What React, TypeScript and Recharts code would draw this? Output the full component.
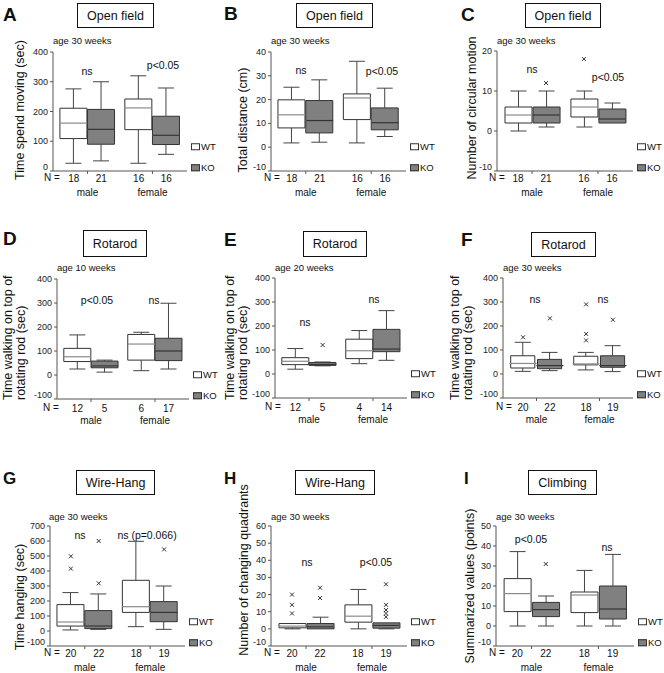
import React from "react"
import { ComposedChart, Bar, Scatter, XAxis, YAxis } from "recharts"

const FONT = "'Liberation Sans', Arial, Helvetica, sans-serif"

// box positions on the x scale: male WT, male KO, female WT, female KO
const xPos = [1, 2, 3.35, 4.35]
const groupPos = [1.5, 3.85]
const sexes = ["male", "female"]
const genotype = ["WT", "KO", "WT", "KO"]

// N per box
const openFieldN = [18, 21, 16, 16]
const rotarod10N = [12, 5, 6, 17]
const rotarod20N = [12, 5, 4, 14]
const age30N = [20, 22, 18, 19]

// [min, q1, median, q3, max] per box
const movingStats = [[26, 109, 161, 211, 276], [34, 90, 140, 207, 300], [26, 139, 212, 242, 320], [56, 89, 120, 184, 279]]
const distanceStats = [[1.8, 8.1, 13.6, 19.9, 25.2], [2.1, 6.0, 11.2, 19.6, 28.3], [1.8, 11.6, 20.7, 22.4, 36.1], [4.5, 7.3, 10.3, 16.5, 24.8]]
const circularStats = [[0, 2, 4, 6, 10], [1, 2, 4, 6, 10], [1, 3.5, 6, 8, 10], [2, 2, 3, 5.5, 7]]
const rotarod10Stats = [[25, 56, 76, 111, 167], [12, 30, 38, 58, 62], [18, 62, 129, 169, 178], [25, 60, 100, 153, 299]]
const rotarod20Stats = [[20, 39, 53, 68, 106], [34, 36, 40, 48, 50], [43, 64, 97, 145, 181], [57, 93, 104, 186, 264]]
const rotarod30Stats = [[11, 25, 44, 76, 132], [14, 22, 35, 61, 90], [17, 38, 42, 74, 90], [10, 28, 35, 76, 118]]
const hangTimeStats = [[7, 33, 60, 176, 256], [11, 16, 33, 136, 247], [29, 124, 162, 338, 598], [11, 62, 124, 196, 300]]
const quadrantStats = [[0, 0.6, 1.6, 3.1, 3.1], [0, 0, 1.2, 3.1, 6.8], [0, 3.9, 7.4, 14, 23], [0, 0.4, 2, 3.5, 3.5]]
const climbStats = [[0, 7.2, 16.2, 23.7, 37.2], [0, 4.7, 8.2, 11.8, 15], [0, 6.7, 15.5, 17, 27.8], [0, 3.5, 8.5, 20, 35.8]]

// outliers: [box index, value]
const circularOut = [[1, 12], [2, 18]]
const rotarod20Out = [[1, 121]]
const rotarod30Out = [[0, 153], [1, 232], [2, 290], [2, 167], [2, 140], [3, 226]]
const hangTimeOut = [[0, 498], [0, 416], [1, 600], [1, 318], [3, 544]]
const quadrantOut = [[0, 20], [0, 14], [0, 9], [1, 24], [1, 18], [3, 26], [3, 14], [3, 11], [3, 9], [3, 7]]
const climbOut = [[1, 31]]

const BOX_W = 27
const CAP = 8

type Note = { text: string; x: number; y: number }
type Panel = {
  letter: string; lx: number; ly: number; lsize: number
  title: string; tb: number[]
  age: string; ax: number; ay: number
  yLabel: string[]; ylx: number; yly: number; twoLine?: boolean
  stats: number[][]; out: number[][]; n: number[]
  domain: number[]; ticks: number[]
  L: number; R: number; T: number; B: number
  nOff: number; nx: number
  notes: Note[]
}

const panels: Panel[] = [
  {
    letter: "A", lx: 3, ly: 5, lsize: 19, title: "Open field", tb: [77, 3, 77, 25],
    age: "age 30 weeks", ax: 53, ay: 41, yLabel: ["Time spend moving (sec)"], ylx: 20, yly: 110,
    stats: movingStats, out: [], n: openFieldN, domain: [0, 400], ticks: [0, 100, 200, 300, 400],
    L: 53, R: 187, T: 52, B: 171, nOff: 7, nx: 52,
    notes: [{ text: "ns", x: 87, y: 71 }, { text: "p<0.05", x: 163, y: 65 }],
  },
  {
    letter: "B", lx: 224, ly: 4, lsize: 19, title: "Open field", tb: [296, 3, 77, 25],
    age: "age 30 weeks", ax: 271, ay: 41, yLabel: ["Total distance (cm)"], ylx: 243, yly: 120,
    stats: distanceStats, out: [], n: openFieldN, domain: [-10, 40], ticks: [-10, 0, 10, 20, 30, 40],
    L: 271, R: 406, T: 52, B: 171, nOff: 7, nx: 272,
    notes: [{ text: "ns", x: 301, y: 70 }, { text: "p<0.05", x: 382, y: 71 }],
  },
  {
    letter: "C", lx: 461, ly: 5, lsize: 19, title: "Open field", tb: [525, 3, 76, 25],
    age: "age 30 weeks", ax: 497, ay: 41, yLabel: ["Number of circular motion"], ylx: 472, yly: 108,
    stats: circularStats, out: circularOut, n: openFieldN, domain: [-10, 20], ticks: [-10, 0, 10, 20],
    L: 497, R: 633, T: 51, B: 171, nOff: 7, nx: 497,
    notes: [{ text: "ns", x: 532, y: 69 }, { text: "p<0.05", x: 608, y: 77 }],
  },
  {
    letter: "D", lx: 3, ly: 229, lsize: 19, title: "Rotarod", tb: [83, 230, 64, 27],
    age: "age 10 weeks", ax: 57, ay: 268, yLabel: ["Time walking on top of", "rotating rod (sec)"], ylx: 2, yly: 400, twoLine: true,
    stats: rotarod10Stats, out: [], n: rotarod10N, domain: [-100, 400], ticks: [-100, 0, 100, 200, 300, 400],
    L: 57, R: 189, T: 279, B: 399, nOff: 9, nx: 51,
    notes: [{ text: "p<0.05", x: 97, y: 300 }, { text: "ns", x: 154, y: 300 }],
  },
  {
    letter: "E", lx: 224, ly: 230, lsize: 19, title: "Rotarod", tb: [303, 231, 64, 26],
    age: "age 20 weeks", ax: 275, ay: 268, yLabel: ["Time walking on top of", "rotating rod (sec)"], ylx: 224, yly: 400, twoLine: true,
    stats: rotarod20Stats, out: rotarod20Out, n: rotarod20N, domain: [-100, 400], ticks: [-100, 0, 100, 200, 300, 400],
    L: 275, R: 407, T: 278, B: 398, nOff: 9, nx: 273,
    notes: [{ text: "ns", x: 305, y: 322 }, { text: "ns", x: 374, y: 299 }],
  },
  {
    letter: "F", lx: 461, ly: 230, lsize: 19, title: "Rotarod", tb: [531, 232, 65, 25],
    age: "age 30 weeks", ax: 503, ay: 268, yLabel: ["Time walking on top of", "rotating rod (sec)"], ylx: 449, yly: 400, twoLine: true,
    stats: rotarod30Stats, out: rotarod30Out, n: age30N, domain: [-100, 400], ticks: [-100, 0, 100, 200, 300, 400],
    L: 503, R: 633, T: 278, B: 398, nOff: 9, nx: 504,
    notes: [{ text: "ns", x: 535, y: 299 }, { text: "ns", x: 603, y: 299 }],
  },
  {
    letter: "G", lx: 3, ly: 470, lsize: 17, title: "Wire-Hang", tb: [76, 470, 79, 25],
    age: "age 30 weeks", ax: 49, ay: 517, yLabel: ["Time hanging (sec)"], ylx: 19.5, yly: 597,
    stats: hangTimeStats, out: hangTimeOut, n: age30N, domain: [-100, 700], ticks: [-100, 0, 100, 200, 300, 400, 500, 600, 700],
    L: 50, R: 185, T: 526, B: 646, nOff: 7, nx: 52,
    notes: [{ text: "ns", x: 80, y: 535 }, { text: "ns (p=0.066)", x: 147, y: 535 }],
  },
  {
    letter: "H", lx: 224, ly: 470, lsize: 17, title: "Wire-Hang", tb: [295, 470, 80, 25],
    age: "age 30 weeks", ax: 271, ay: 517, yLabel: ["Number of changing quadrants"], ylx: 244, yly: 570,
    stats: quadrantStats, out: quadrantOut, n: age30N, domain: [-10, 60], ticks: [-10, 0, 10, 20, 30, 40, 50, 60],
    L: 271, R: 407, T: 526, B: 646, nOff: 7, nx: 272,
    notes: [{ text: "ns", x: 307, y: 562 }, { text: "p<0.05", x: 376, y: 562 }],
  },
  {
    letter: "I", lx: 464, ly: 470, lsize: 17, title: "Climbing", tb: [528, 470, 69, 25],
    age: "age 30 weeks", ax: 496, ay: 517, yLabel: ["Summarized values (points)"], ylx: 470, yly: 586,
    stats: climbStats, out: climbOut, n: age30N, domain: [-10, 50], ticks: [-10, 0, 10, 20, 30, 40, 50],
    L: 496, R: 634, T: 526, B: 646, nOff: 7, nx: 497,
    notes: [{ text: "p<0.05", x: 531, y: 539 }, { text: "ns", x: 607, y: 547 }],
  },
]

const boxFill = (g: string) => (g === "WT" ? "#ffffff" : "#808080")

function WhiskerLow(p: any) {
  const { x, y, width, height } = p
  if (!height) return <g />
  const cx = x + width / 2
  return (
    <g stroke="#444" strokeWidth={1}>
      <line x1={cx} x2={cx} y1={y} y2={y + height} />
      <line x1={cx - CAP} x2={cx + CAP} y1={y + height} y2={y + height} />
    </g>
  )
}

function WhiskerHigh(p: any) {
  const { x, y, width, height } = p
  if (!height) return <g />
  const cx = x + width / 2
  return (
    <g stroke="#444" strokeWidth={1}>
      <line x1={cx} x2={cx} y1={y} y2={y + height} />
      <line x1={cx - CAP} x2={cx + CAP} y1={y} y2={y} />
    </g>
  )
}

function BoxLow(p: any) {
  const { x, y, width, height, payload } = p
  if (!height) return <g />
  return (
    <g>
      <rect x={x} y={y} width={width} height={height} fill={boxFill(payload.g)} />
      <path d={`M${x},${y}V${y + height}H${x + width}V${y}`} fill="none" stroke="#333" />
    </g>
  )
}

function BoxHigh(p: any) {
  const { x, y, width, height, payload } = p
  if (!height) return <g />
  return (
    <g>
      <rect x={x} y={y} width={width} height={height} fill={boxFill(payload.g)} />
      <path d={`M${x},${y + height}V${y}H${x + width}V${y + height}`} fill="none" stroke="#333" />
    </g>
  )
}

function Median(p: any) {
  const { cx, cy, payload } = p
  return (
    <line x1={cx - BOX_W / 2} x2={cx + BOX_W / 2} y1={cy} y2={cy}
      stroke={payload.g === "WT" ? "#8a8a8a" : "#333"} strokeWidth={1.2} />
  )
}

function Cross(p: any) {
  const { cx, cy } = p
  return (
    <g stroke="#333" strokeWidth={1}>
      <line x1={cx - 2} x2={cx + 2} y1={cy - 2} y2={cy + 2} />
      <line x1={cx - 2} x2={cx + 2} y1={cy + 2} y2={cy - 2} />
    </g>
  )
}

function xTick(n: number[], nOff: number) {
  return (p: any) => {
    const v = p.payload.value
    const i = xPos.indexOf(v)
    if (i >= 0) {
      return (
        <text x={p.x} y={p.y + nOff} textAnchor="middle" dominantBaseline="central"
          fontSize={10} fontFamily={FONT} fill="#111">{n[i]}</text>
      )
    }
    const gi = groupPos.indexOf(v)
    return (
      <g>
        <line x1={p.x} x2={p.x} y1={p.y} y2={p.y + 3} stroke="#555" />
        <text x={p.x} y={p.y + 21} textAnchor="middle" dominantBaseline="central"
          fontSize={10} fontFamily={FONT} fill="#111">{sexes[gi]}</text>
      </g>
    )
  }
}

// lowest tick label sits above the axis corner, as in the original
function yTick(lo: number) {
  return (p: any) => {
    const v = p.payload.value
    const bottom = v === lo
    return (
      <text x={p.x} y={bottom ? p.y - 1 : p.y} textAnchor="end" dominantBaseline={bottom ? "auto" : "central"}
        fontSize={9} fontFamily={FONT} fill="#222">{v}</text>
    )
  }
}

function PanelView({ p }: { p: Panel }) {
  const rows = p.stats.map((s, i) => ({
    x: xPos[i], g: genotype[i],
    base: s[0], w1: s[1] - s[0], b1: s[2] - s[1], b2: s[3] - s[2], w2: s[4] - s[3], med: s[2],
  }))
  const outRows = p.out.map(([i, v]) => ({ x: xPos[i], v }))
  const cl = p.L - 34
  const ct = p.T - 6
  const w = p.R - cl + 6
  const h = p.B - ct + 32
  const abs: React.CSSProperties = { position: "absolute", whiteSpace: "nowrap" }

  return (
    <>
      <div style={{ ...abs, left: p.lx, top: p.ly, fontSize: p.lsize, fontWeight: 700, lineHeight: 1 }}>{p.letter}</div>
      <div style={{
        ...abs, left: p.tb[0], top: p.tb[1], width: p.tb[2], height: p.tb[3], boxSizing: "border-box",
        border: "1px solid #111", display: "flex", alignItems: "center", justifyContent: "center", fontSize: 12.5,
      }}>{p.title}</div>
      <div style={{ ...abs, left: p.ax, top: p.ay, transform: "translateY(-50%)", fontSize: 9.5, lineHeight: 1 }}>{p.age}</div>
      {p.twoLine ? (
        <div style={{ ...abs, left: p.ylx, top: p.yly, transform: "rotate(-90deg)", transformOrigin: "0 0", fontSize: 12.5, lineHeight: "12.5px" }}>
          {p.yLabel.map((t) => <div key={t}>{t}</div>)}
        </div>
      ) : (
        <div style={{ ...abs, left: p.ylx, top: p.yly, transform: "translate(-50%, -50%) rotate(-90deg)", fontSize: 12.5, lineHeight: 1 }}>
          {p.yLabel[0]}
        </div>
      )}
      {p.notes.map((nt) => (
        <div key={nt.text + nt.x} style={{ ...abs, left: nt.x, top: nt.y, transform: "translate(-50%, -50%)", fontSize: 10.5, lineHeight: 1 }}>{nt.text}</div>
      ))}
      <div style={{ ...abs, left: p.nx, top: p.B + p.nOff, transform: "translate(-50%, -50%)", fontSize: 10, lineHeight: 1 }}>N =</div>
      {["WT", "KO"].map((g, k) => (
        <div key={g} style={{ ...abs, left: p.R + 4, top: p.B - (k === 0 ? 24.5 : 3.5), transform: "translateY(-50%)", display: "flex", alignItems: "center", fontSize: 9.5, lineHeight: 1 }}>
          <span style={{ display: "inline-block", boxSizing: "border-box", width: 9, height: 7, border: "1px solid #333", background: boxFill(g), marginRight: 1 }} />
          {g}
        </div>
      ))}
      <div style={{ position: "absolute", left: cl, top: ct }}>
        <ComposedChart width={w} height={h} data={rows} margin={{ top: 6, right: 6, left: 0, bottom: 0 }} barSize={BOX_W} barGap={0}>
          <XAxis dataKey="x" type="number" domain={[0.25, 5.1]} allowDataOverflow ticks={[...xPos, ...groupPos]}
            interval={0} tick={xTick(p.n, p.nOff)} tickLine={false} tickSize={0} tickMargin={0} height={32} stroke="#555" />
          <XAxis xAxisId="top" orientation="top" type="number" domain={[0, 1]} tick={false} tickLine={false} height={0} stroke="#8a8a8a" />
          <YAxis type="number" domain={p.domain} ticks={p.ticks} allowDataOverflow interval={0} width={34}
            tickSize={3} tickMargin={2} stroke="#555" tick={yTick(p.domain[0])} />
          <YAxis yAxisId="right" orientation="right" type="number" domain={[0, 1]} tick={false} tickLine={false} width={0} stroke="#8a8a8a" />
          <Bar dataKey="base" stackId="s" isAnimationActive={false} shape={() => <g />} />
          <Bar dataKey="w1" stackId="s" isAnimationActive={false} shape={WhiskerLow} />
          <Bar dataKey="b1" stackId="s" isAnimationActive={false} shape={BoxLow} />
          <Bar dataKey="b2" stackId="s" isAnimationActive={false} shape={BoxHigh} />
          <Bar dataKey="w2" stackId="s" isAnimationActive={false} shape={WhiskerHigh} />
          <Scatter data={rows} dataKey="med" isAnimationActive={false} shape={Median} />
          <Scatter data={outRows} dataKey="v" isAnimationActive={false} shape={Cross} />
        </ComposedChart>
      </div>
    </>
  )
}

export default function App() {
  return (
    <div style={{
      position: "absolute", left: 0, top: 0, width: 664, height: 673, background: "#fff",
      fontFamily: FONT, color: "#111", overflow: "hidden",
    }}>
      {panels.map((p) => <PanelView key={p.letter} p={p} />)}
    </div>
  )
}
